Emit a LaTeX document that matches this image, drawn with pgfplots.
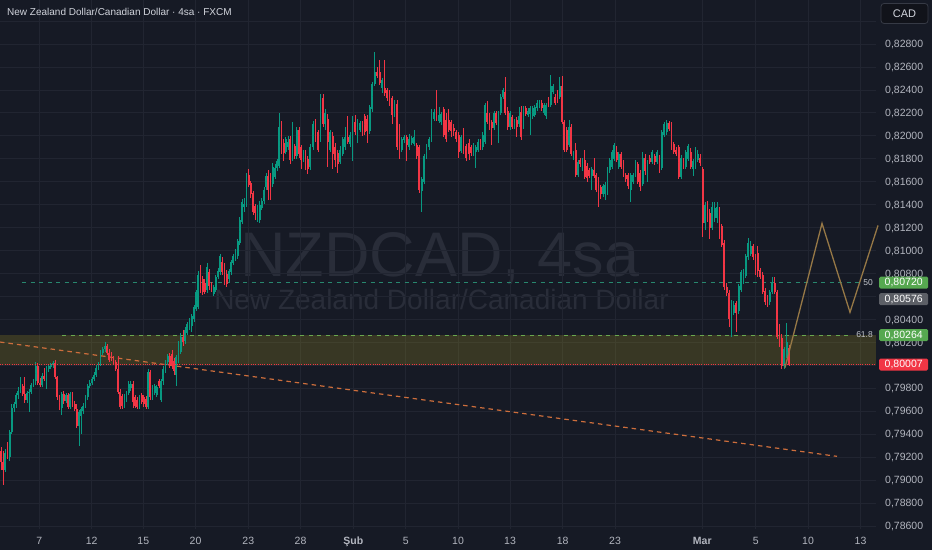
\documentclass[border=0pt]{standalone}
\usepackage{pgfplots}
\usepackage{pgfplotstable}
\pgfplotsset{compat=1.18}
\usepackage{fontspec}
\setmainfont{Liberation Sans}
\definecolor{bgc}{RGB}{22,26,37}
\definecolor{gridc}{RGB}{33,37,49}
\definecolor{labc}{RGB}{178,181,190}
\definecolor{upc}{RGB}{8,153,129}
\definecolor{dnc}{RGB}{242,54,69}
\definecolor{wmc}{RGB}{41,45,57}
\definecolor{zonec}{RGB}{160,145,35}
\definecolor{fibA}{RGB}{40,135,110}
\definecolor{fibB}{RGB}{106,168,79}
\definecolor{trendc}{RGB}{205,110,60}
\definecolor{zigc}{RGB}{150,120,70}
\definecolor{labgreen}{RGB}{86,168,80}
\definecolor{labgray}{RGB}{92,95,102}
\definecolor{cadbox}{RGB}{17,19,26}
\definecolor{cadborder}{RGB}{54,58,69}
\definecolor{titlec}{RGB}{209,212,220}

\pgfplotstableread{
x o h l c
1.0 0.7925 0.7929 0.7909 0.7916
3.2 0.7916 0.7925 0.7896 0.7909
5.3 0.7909 0.7927 0.7907 0.7924
7.5 0.7924 0.7933 0.7918 0.7920
9.7 0.7920 0.7944 0.7917 0.7942
11.8 0.7942 0.7966 0.7940 0.7963
14.0 0.7963 0.7968 0.7959 0.7966
16.1 0.7966 0.7976 0.7963 0.7974
18.3 0.7974 0.7981 0.7971 0.7978
20.5 0.7978 0.7990 0.7976 0.7982
22.6 0.7982 0.7984 0.7973 0.7975
24.8 0.7975 0.7990 0.7967 0.7970
27.0 0.7970 0.7978 0.7967 0.7976
29.1 0.7976 0.7979 0.7959 0.7977
31.3 0.7977 0.7985 0.7975 0.7983
33.5 0.7983 0.7988 0.7981 0.7986
35.6 0.7986 0.8003 0.7983 0.7999
37.8 0.7999 0.8002 0.7983 0.7985
40.0 0.7985 0.7989 0.7981 0.7983
42.1 0.7983 0.7993 0.7981 0.7991
44.3 0.7991 0.7998 0.7986 0.7988
46.4 0.7988 0.7999 0.7979 0.7997
48.6 0.7997 0.8000 0.7994 0.7999
50.8 0.7999 0.8002 0.7997 0.8000
52.9 0.8000 0.8004 0.7998 0.8002
55.1 0.8002 0.8005 0.7988 0.7990
57.3 0.7990 0.7991 0.7970 0.7972
59.4 0.7972 0.7974 0.7961 0.7963
61.6 0.7963 0.7977 0.7957 0.7975
63.8 0.7975 0.7978 0.7966 0.7969
65.9 0.7969 0.7976 0.7967 0.7974
68.1 0.7974 0.7976 0.7962 0.7964
70.2 0.7964 0.7977 0.7962 0.7975
72.4 0.7975 0.7977 0.7964 0.7966
74.6 0.7966 0.7969 0.7960 0.7962
76.7 0.7962 0.7966 0.7945 0.7947
78.9 0.7947 0.7961 0.7930 0.7959
81.1 0.7956 0.7964 0.7940 0.7962
83.2 0.7960 0.7967 0.7958 0.7965
85.4 0.7965 0.7974 0.7963 0.7972
87.6 0.7972 0.7984 0.7970 0.7982
89.7 0.7982 0.7987 0.7980 0.7985
91.9 0.7985 0.7990 0.7983 0.7988
94.1 0.7988 0.7994 0.7986 0.7992
96.2 0.7992 0.8000 0.7990 0.7998
98.4 0.7998 0.8003 0.7996 0.8001
100.5 0.8001 0.8013 0.7999 0.8011
102.7 0.8011 0.8016 0.8009 0.8014
104.9 0.8014 0.8020 0.8012 0.8017
107.0 0.8017 0.8019 0.8009 0.8011
109.2 0.8011 0.8014 0.8003 0.8005
111.4 0.8010 0.8012 0.8004 0.8006
113.5 0.8006 0.8008 0.8001 0.8003
115.7 0.8003 0.8005 0.7995 0.7997
117.9 0.7997 0.8008 0.7975 0.7977
120.0 0.7977 0.7979 0.7962 0.7964
122.2 0.7973 0.7975 0.7962 0.7965
124.4 0.7965 0.7975 0.7963 0.7973
126.5 0.7970 0.7978 0.7968 0.7976
128.7 0.7976 0.7986 0.7974 0.7984
130.8 0.7980 0.7986 0.7978 0.7984
133.0 0.7984 0.7986 0.7963 0.7968
135.2 0.7972 0.7974 0.7963 0.7965
137.3 0.7970 0.7972 0.7962 0.7964
139.5 0.7964 0.7974 0.7962 0.7972
141.7 0.7974 0.7976 0.7966 0.7968
143.8 0.7972 0.7974 0.7964 0.7966
146.0 0.7971 0.7973 0.7962 0.7964
148.2 0.7964 0.7997 0.7962 0.7994
150.3 0.7994 0.7996 0.7970 0.7972
152.5 0.7972 0.7983 0.7970 0.7981
154.7 0.7976 0.7984 0.7974 0.7982
156.8 0.7974 0.7983 0.7972 0.7981
159.0 0.7986 0.7988 0.7980 0.7982
161.0 0.7970 0.7988 0.7968 0.7986
163.2 0.7986 0.7999 0.7983 0.7997
165.4 0.7997 0.8005 0.7993 0.8003
167.6 0.8003 0.8010 0.8000 0.8008
169.8 0.8008 0.8011 0.7998 0.8000
171.9 0.8010 0.8013 0.7997 0.7999
174.1 0.8004 0.8006 0.7992 0.7995
176.3 0.7992 0.8009 0.7982 0.8007
178.5 0.8004 0.8021 0.8002 0.8018
180.7 0.8012 0.8028 0.8010 0.8025
182.9 0.8025 0.8031 0.8017 0.8020
185.1 0.8021 0.8033 0.8019 0.8031
187.3 0.8028 0.8038 0.8026 0.8036
189.5 0.8033 0.8041 0.8031 0.8038
191.7 0.8034 0.8045 0.8029 0.8043
193.9 0.8040 0.8053 0.8038 0.8051
196.0 0.8049 0.8066 0.8047 0.8064
198.2 0.8051 0.8082 0.8049 0.8079
200.4 0.8082 0.8087 0.8063 0.8066
202.6 0.8075 0.8078 0.8061 0.8064
204.8 0.8072 0.8075 0.8062 0.8064
207.0 0.8066 0.8089 0.8063 0.8086
209.2 0.8081 0.8084 0.8066 0.8069
211.4 0.8070 0.8073 0.8064 0.8066
213.6 0.8062 0.8070 0.8060 0.8068
215.8 0.8066 0.8079 0.8064 0.8077
217.9 0.8077 0.8085 0.8075 0.8082
220.1 0.8081 0.8097 0.8079 0.8095
222.3 0.8090 0.8094 0.8079 0.8081
224.5 0.8086 0.8089 0.8070 0.8072
226.7 0.8080 0.8083 0.8068 0.8071
228.9 0.8075 0.8084 0.8073 0.8082
231.1 0.8081 0.8092 0.8079 0.8090
233.3 0.8089 0.8097 0.8087 0.8095
235.5 0.8093 0.8101 0.8091 0.8098
237.7 0.8095 0.8110 0.8093 0.8108
239.8 0.8107 0.8129 0.8105 0.8127
242.0 0.8125 0.8145 0.8123 0.8142
244.2 0.8138 0.8146 0.8134 0.8141
246.4 0.8140 0.8168 0.8138 0.8166
248.6 0.8166 0.8171 0.8155 0.8157
250.8 0.8159 0.8161 0.8146 0.8149
253.0 0.8150 0.8152 0.8131 0.8134
255.2 0.8139 0.8141 0.8127 0.8133
257.4 0.8126 0.8140 0.8125 0.8138
259.6 0.8127 0.8143 0.8124 0.8140
261.7 0.8137 0.8146 0.8135 0.8143
263.9 0.8143 0.8155 0.8141 0.8153
266.1 0.8155 0.8168 0.8153 0.8165
268.3 0.8165 0.8170 0.8144 0.8153
270.5 0.8160 0.8168 0.8144 0.8150
272.7 0.8158 0.8176 0.8155 0.8173
274.9 0.8164 0.8175 0.8162 0.8172
277.1 0.8172 0.8180 0.8169 0.8178
279.3 0.8174 0.8220 0.8172 0.8208
281.5 0.8210 0.8213 0.8184 0.8186
283.6 0.8194 0.8197 0.8178 0.8185
285.8 0.8186 0.8199 0.8184 0.8197
288.0 0.8190 0.8200 0.8188 0.8195
290.2 0.8197 0.8200 0.8175 0.8179
292.4 0.8180 0.8212 0.8178 0.8204
294.6 0.8191 0.8193 0.8180 0.8182
296.8 0.8182 0.8208 0.8180 0.8205
299.0 0.8205 0.8208 0.8181 0.8184
301.2 0.8190 0.8192 0.8171 0.8179
303.4 0.8180 0.8188 0.8177 0.8186
305.5 0.8186 0.8188 0.8170 0.8173
307.7 0.8180 0.8182 0.8167 0.8171
309.9 0.8173 0.8193 0.8170 0.8190
313.0 0.8190 0.8213 0.8188 0.8210
315.5 0.8210 0.8215 0.8195 0.8197
317.9 0.8203 0.8205 0.8186 0.8188
320.4 0.8197 0.8236 0.8195 0.8233
322.9 0.8233 0.8236 0.8208 0.8210
325.3 0.8210 0.8223 0.8205 0.8220
327.8 0.8215 0.8219 0.8173 0.8195
330.3 0.8188 0.8205 0.8186 0.8203
332.7 0.8200 0.8203 0.8171 0.8184
335.2 0.8190 0.8194 0.8173 0.8179
337.7 0.8185 0.8188 0.8168 0.8175
340.1 0.8177 0.8191 0.8175 0.8188
342.6 0.8184 0.8199 0.8182 0.8197
345.1 0.8190 0.8208 0.8188 0.8199
347.6 0.8199 0.8217 0.8193 0.8195
350.0 0.8193 0.8203 0.8190 0.8201
352.5 0.8186 0.8217 0.8178 0.8212
355.0 0.8212 0.8218 0.8201 0.8203
357.4 0.8203 0.8215 0.8194 0.8212
359.9 0.8205 0.8213 0.8203 0.8211
362.4 0.8211 0.8213 0.8200 0.8203
364.8 0.8217 0.8219 0.8201 0.8203
367.3 0.8215 0.8218 0.8194 0.8204
369.8 0.8204 0.8227 0.8202 0.8225
372.2 0.8223 0.8247 0.8221 0.8245
374.7 0.8245 0.8273 0.8243 0.8256
377.2 0.8256 0.8260 0.8250 0.8252
379.6 0.8256 0.8266 0.8244 0.8246
382.1 0.8242 0.8250 0.8237 0.8249
384.6 0.8242 0.8266 0.8235 0.8237
387.0 0.8240 0.8242 0.8230 0.8233
389.5 0.8237 0.8240 0.8226 0.8228
392.0 0.8233 0.8235 0.8210 0.8218
394.4 0.8218 0.8231 0.8216 0.8228
396.9 0.8228 0.8231 0.8188 0.8190
399.4 0.8205 0.8210 0.8180 0.8188
401.8 0.8188 0.8199 0.8186 0.8197
404.3 0.8196 0.8201 0.8194 0.8199
406.8 0.8199 0.8201 0.8178 0.8192
409.3 0.8190 0.8202 0.8188 0.8197
411.7 0.8194 0.8200 0.8192 0.8198
414.2 0.8193 0.8205 0.8191 0.8199
416.7 0.8192 0.8194 0.8180 0.8182
419.1 0.8190 0.8192 0.8150 0.8153
421.6 0.8152 0.8164 0.8134 0.8162
424.1 0.8160 0.8184 0.8158 0.8182
426.5 0.8182 0.8193 0.8180 0.8191
429.0 0.8190 0.8199 0.8188 0.8197
431.5 0.8197 0.8223 0.8195 0.8218
433.9 0.8215 0.8223 0.8213 0.8221
436.4 0.8220 0.8240 0.8213 0.8215
438.9 0.8213 0.8225 0.8211 0.8218
441.3 0.8212 0.8221 0.8209 0.8219
443.8 0.8223 0.8225 0.8199 0.8201
446.3 0.8214 0.8220 0.8195 0.8197
448.7 0.8214 0.8223 0.8203 0.8205
451.2 0.8212 0.8214 0.8199 0.8204
453.7 0.8207 0.8210 0.8200 0.8204
456.1 0.8203 0.8205 0.8195 0.8197
458.6 0.8201 0.8203 0.8181 0.8186
461.1 0.8187 0.8201 0.8185 0.8199
463.5 0.8199 0.8207 0.8184 0.8186
466.0 0.8191 0.8193 0.8178 0.8181
469.0 0.8194 0.8197 0.8179 0.8184
471.3 0.8190 0.8192 0.8182 0.8185
473.5 0.8184 0.8194 0.8182 0.8192
475.8 0.8186 0.8192 0.8172 0.8190
478.1 0.8188 0.8197 0.8186 0.8195
480.4 0.8195 0.8197 0.8188 0.8190
482.6 0.8190 0.8203 0.8188 0.8201
484.9 0.8195 0.8229 0.8193 0.8227
487.2 0.8220 0.8230 0.8210 0.8212
489.4 0.8218 0.8220 0.8205 0.8207
491.7 0.8212 0.8214 0.8192 0.8207
494.0 0.8207 0.8222 0.8205 0.8220
496.2 0.8220 0.8222 0.8209 0.8211
498.5 0.8209 0.8222 0.8194 0.8220
500.8 0.8220 0.8236 0.8218 0.8234
503.1 0.8234 0.8242 0.8232 0.8240
505.3 0.8238 0.8251 0.8218 0.8220
507.6 0.8222 0.8225 0.8205 0.8208
509.9 0.8208 0.8222 0.8205 0.8220
512.1 0.8216 0.8218 0.8206 0.8208
514.4 0.8208 0.8215 0.8206 0.8213
516.7 0.8214 0.8216 0.8199 0.8208
518.9 0.8210 0.8225 0.8208 0.8217
521.2 0.8221 0.8226 0.8196 0.8199
523.5 0.8208 0.8226 0.8206 0.8224
525.8 0.8224 0.8226 0.8217 0.8219
528.0 0.8218 0.8224 0.8216 0.8222
530.3 0.8219 0.8226 0.8201 0.8224
532.6 0.8217 0.8226 0.8215 0.8224
534.8 0.8218 0.8227 0.8216 0.8225
537.1 0.8224 0.8231 0.8222 0.8229
539.4 0.8226 0.8231 0.8224 0.8229
541.6 0.8229 0.8231 0.8222 0.8224
543.9 0.8220 0.8229 0.8218 0.8227
546.2 0.8217 0.8229 0.8215 0.8227
548.5 0.8232 0.8234 0.8225 0.8227
550.7 0.8227 0.8253 0.8225 0.8243
553.0 0.8238 0.8245 0.8236 0.8243
555.3 0.8234 0.8236 0.8227 0.8229
557.5 0.8238 0.8240 0.8229 0.8231
559.8 0.8234 0.8251 0.8232 0.8243
562.1 0.8243 0.8252 0.8210 0.8212
564.3 0.8212 0.8214 0.8186 0.8188
566.6 0.8205 0.8208 0.8186 0.8188
568.9 0.8192 0.8214 0.8190 0.8208
571.2 0.8208 0.8210 0.8182 0.8184
573.4 0.8181 0.8187 0.8179 0.8185
575.7 0.8188 0.8194 0.8164 0.8166
578.0 0.8166 0.8179 0.8164 0.8177
580.2 0.8179 0.8181 0.8173 0.8175
582.5 0.8171 0.8181 0.8169 0.8179
584.8 0.8179 0.8188 0.8162 0.8164
587.0 0.8174 0.8176 0.8160 0.8163
589.3 0.8170 0.8172 0.8163 0.8165
591.6 0.8165 0.8173 0.8153 0.8171
593.9 0.8170 0.8181 0.8163 0.8165
596.1 0.8166 0.8168 0.8151 0.8153
598.4 0.8162 0.8164 0.8138 0.8147
600.7 0.8155 0.8157 0.8145 0.8149
602.9 0.8149 0.8158 0.8147 0.8156
605.2 0.8149 0.8160 0.8144 0.8157
607.5 0.8150 0.8173 0.8148 0.8171
609.7 0.8170 0.8181 0.8168 0.8179
612.0 0.8173 0.8188 0.8171 0.8186
614.3 0.8180 0.8194 0.8178 0.8192
616.6 0.8186 0.8191 0.8177 0.8179
618.8 0.8173 0.8186 0.8171 0.8184
621.0 0.8184 0.8186 0.8171 0.8173
623.4 0.8177 0.8179 0.8164 0.8166
625.8 0.8166 0.8168 0.8160 0.8162
628.2 0.8166 0.8168 0.8154 0.8156
630.6 0.8153 0.8168 0.8142 0.8166
633.0 0.8160 0.8168 0.8158 0.8166
635.4 0.8166 0.8179 0.8164 0.8177
637.8 0.8175 0.8177 0.8158 0.8160
640.2 0.8168 0.8170 0.8152 0.8155
642.6 0.8158 0.8186 0.8156 0.8181
645.0 0.8181 0.8184 0.8166 0.8169
647.4 0.8169 0.8179 0.8160 0.8177
649.8 0.8181 0.8183 0.8175 0.8177
652.2 0.8177 0.8188 0.8175 0.8186
654.6 0.8182 0.8184 0.8175 0.8177
657.0 0.8177 0.8188 0.8175 0.8186
659.4 0.8181 0.8183 0.8168 0.8171
661.8 0.8172 0.8205 0.8170 0.8203
664.2 0.8201 0.8212 0.8199 0.8210
666.6 0.8203 0.8214 0.8201 0.8211
669.0 0.8211 0.8213 0.8204 0.8206
671.4 0.8210 0.8212 0.8188 0.8190
673.8 0.8193 0.8195 0.8184 0.8186
676.2 0.8188 0.8190 0.8182 0.8184
678.6 0.8190 0.8192 0.8162 0.8164
681.0 0.8164 0.8183 0.8162 0.8181
683.4 0.8179 0.8181 0.8171 0.8173
685.8 0.8173 0.8188 0.8171 0.8186
688.2 0.8180 0.8193 0.8178 0.8191
690.6 0.8186 0.8189 0.8171 0.8173
693.0 0.8171 0.8180 0.8165 0.8178
695.4 0.8173 0.8190 0.8171 0.8186
697.8 0.8179 0.8188 0.8177 0.8184
700.2 0.8181 0.8184 0.8174 0.8176
702.6 0.8171 0.8173 0.8112 0.8124
705.0 0.8124 0.8142 0.8118 0.8140
707.4 0.8140 0.8143 0.8125 0.8127
709.8 0.8133 0.8136 0.8110 0.8120
712.2 0.8120 0.8142 0.8118 0.8138
714.6 0.8128 0.8142 0.8125 0.8137
717.0 0.8128 0.8142 0.8124 0.8138
719.4 0.8136 0.8138 0.8110 0.8112
721.8 0.8121 0.8123 0.8103 0.8105
724.2 0.8107 0.8109 0.8066 0.8068
726.6 0.8068 0.8072 0.8060 0.8063
729.0 0.8063 0.8066 0.8033 0.8040
731.4 0.8040 0.8057 0.8025 0.8055
733.8 0.8046 0.8056 0.8044 0.8053
736.2 0.8054 0.8056 0.8029 0.8046
738.6 0.8047 0.8071 0.8045 0.8069
741.0 0.8066 0.8083 0.8064 0.8081
743.4 0.8073 0.8084 0.8071 0.8081
745.8 0.8078 0.8097 0.8076 0.8095
748.2 0.8094 0.8111 0.8092 0.8107
750.6 0.8097 0.8108 0.8095 0.8104
753.0 0.8104 0.8106 0.8092 0.8094
755.4 0.8095 0.8097 0.8079 0.8081
757.8 0.8098 0.8104 0.8077 0.8082
760.2 0.8083 0.8085 0.8075 0.8077
762.6 0.8079 0.8081 0.8062 0.8064
765.0 0.8065 0.8067 0.8053 0.8055
767.4 0.8059 0.8061 0.8051 0.8055
769.8 0.8055 0.8066 0.8053 0.8064
772.2 0.8064 0.8077 0.8062 0.8072
774.6 0.8072 0.8077 0.8062 0.8064
777.0 0.8064 0.8066 0.8023 0.8025
779.4 0.8030 0.8036 0.8016 0.8020
781.8 0.8024 0.8027 0.7997 0.7999
784.2 0.7999 0.8016 0.7997 0.8014
786.6 0.8008 0.8037 0.8006 0.8020
789.0 0.8015 0.8018 0.7999 0.80007
}\candles

\begin{document}
\begin{tikzpicture}
\fill[bgc] (0,0) rectangle (932bp,550bp);
% watermark
\node[anchor=base, text=wmc, font=\fontsize{63bp}{70bp}\selectfont, inner sep=0pt] at (440bp,273bp) {NZDCAD, 4sa};
\node[anchor=base, text=wmc, font=\fontsize{28bp}{32bp}\selectfont, inner sep=0pt] at (441.5bp,240bp) {New Zealand Dollar/Canadian Dollar};

\begin{axis}[
  at={(0bp,21bp)}, anchor=south west,
  width=876bp, height=529bp, scale only axis,
  xmin=0, xmax=876, ymin=0.785739, ymax=0.831834,
  clip=false,
  axis line style={draw=none},
  major tick length=0pt, tick style={draw=none},
  grid=major,
  major grid style={draw=gridc, line width=0.8bp},
  xtick={39.3,91.7,143.3,195.5,248.3,300.5,353.3,405.7,458,510,562.7,615,702.3,755.7,808,860.5},
  xticklabels={7,12,15,20,23,28,\textbf{Şub},5,10,13,18,23,\textbf{Mar},5,10,13},
  xticklabel style={anchor=base, yshift=-15bp, inner sep=0pt, text=labc, font=\fontsize{10.5bp}{12bp}\selectfont},
  ytick={0.786,0.788,0.790,0.792,0.794,0.796,0.798,0.802,0.804,0.808,0.810,0.812,0.814,0.816,0.818,0.820,0.822,0.824,0.826,0.828},
  extra y ticks={0.800,0.806,0.830}, extra y tick labels={}, extra y tick style={grid=major},
  yticklabel pos=right,
  yticklabel={\pgfmathprintnumber[fixed,fixed zerofill,precision=5,use comma,assume math mode=true]{\tick}},
  yticklabel style={anchor=base west, xshift=9bp, yshift=-3.7bp, inner sep=0pt, text=labc, font=\fontsize{10.5bp}{12bp}\selectfont},
  candle/.style={only marks, mark=*, mark size=0pt, mark options={draw=none, fill=none}, forget plot},
]
% zone
\addplot[draw=none, fill=zonec, fill opacity=0.25, forget plot] coordinates {(0,0.80007)(876,0.80007)(876,0.80264)(0,0.80264)};
% trend line
\addplot[trendc, line width=1.2bp, dash pattern=on 4.5bp off 4bp, forget plot] coordinates {(0,0.80203)(837,0.79207)};
% fib lines
\addplot[fibA, line width=0.9bp, dash pattern=on 4bp off 4.5bp, forget plot] coordinates {(22,0.80720)(860,0.80720)};
\addplot[fibB, line width=0.9bp, dash pattern=on 4bp off 4.5bp, forget plot] coordinates {(62,0.80264)(852,0.80264)};
% wicks up
\addplot[candle,
  restrict expr to domain={\thisrow{c}-\thisrow{o}}{0:1},
  error bars/.cd, y dir=both, y explicit, error mark=none,
  error bar style={line width=0.7bp, draw=upc}]
  table[x=x, y expr={0.5*(\thisrow{h}+\thisrow{l})}, y error expr={0.5*(\thisrow{h}-\thisrow{l})}] {\candles};
% wicks down
\addplot[candle,
  restrict expr to domain={\thisrow{o}-\thisrow{c}}{0.000001:1},
  error bars/.cd, y dir=both, y explicit, error mark=none,
  error bar style={line width=0.7bp, draw=dnc}]
  table[x=x, y expr={0.5*(\thisrow{h}+\thisrow{l})}, y error expr={0.5*(\thisrow{h}-\thisrow{l})}] {\candles};
% bodies up
\addplot[candle,
  restrict expr to domain={\thisrow{c}-\thisrow{o}}{0:1},
  error bars/.cd, y dir=both, y explicit, error mark=none,
  error bar style={line width=1.8bp, draw=upc}]
  table[x=x, y expr={0.5*(\thisrow{o}+\thisrow{c})}, y error expr={max(0.5*abs(\thisrow{c}-\thisrow{o}),0.000015)}] {\candles};
% bodies down
\addplot[candle,
  restrict expr to domain={\thisrow{o}-\thisrow{c}}{0.000001:1},
  error bars/.cd, y dir=both, y explicit, error mark=none,
  error bar style={line width=1.8bp, draw=dnc}]
  table[x=x, y expr={0.5*(\thisrow{o}+\thisrow{c})}, y error expr={max(0.5*abs(\thisrow{c}-\thisrow{o}),0.000015)}] {\candles};
% last price line
\addplot[dnc, line width=0.9bp, dash pattern=on 1bp off 1.3bp, forget plot] coordinates {(0,0.80007)(876,0.80007)};
% projection zigzag
\addplot[zigc, line width=1.3bp, forget plot] coordinates {(785,0.79980)(822,0.81237)(850,0.80462)(878,0.81219)};
% fib labels
\node[anchor=east, text=labc!80, font=\fontsize{8.5bp}{10bp}\selectfont, inner sep=0pt] at (axis cs:873,0.80720) {50};
\node[anchor=east, text=labc!80, font=\fontsize{8.5bp}{10bp}\selectfont, inner sep=0pt] at (axis cs:873,0.80264) {61.8};
\coordinate (pA) at (axis cs:876,0.80720);
\coordinate (pB) at (axis cs:876,0.80576);
\coordinate (pC) at (axis cs:876,0.80264);
\coordinate (pD) at (axis cs:876,0.80007);
\end{axis}
% price labels on the scale
\tikzset{plab/.style={anchor=west, rounded corners=1.5bp, minimum width=49bp, minimum height=12bp, inner sep=0pt, text=white, font=\fontsize{10.5bp}{12bp}\selectfont}}
\node[plab, fill=labgreen] at ([xshift=3bp]pA) {0,80720};
\node[plab, fill=labgray] at ([xshift=3bp]pB) {0,80576};
\node[plab, fill=labgreen] at ([xshift=3bp]pC) {0,80264};
\node[plab, fill=dnc] at ([xshift=3bp]pD) {0,80007};
% CAD box
\node[draw=cadborder, fill=cadbox, rounded corners=3bp, minimum width=47bp, minimum height=20bp, inner sep=0pt, text=titlec, font=\fontsize{11bp}{13bp}\selectfont, line width=0.8bp] at (904.5bp,536.5bp) {CAD};
% title
\node[anchor=base west, inner sep=0pt, text=titlec, font=\fontsize{10bp}{12bp}\selectfont] at (7bp,534.5bp) {New Zealand Dollar/Canadian Dollar · 4sa · FXCM};
\pgfresetboundingbox
\path[use as bounding box] (0,0) rectangle (932bp,550bp);
\end{tikzpicture}
\end{document}
